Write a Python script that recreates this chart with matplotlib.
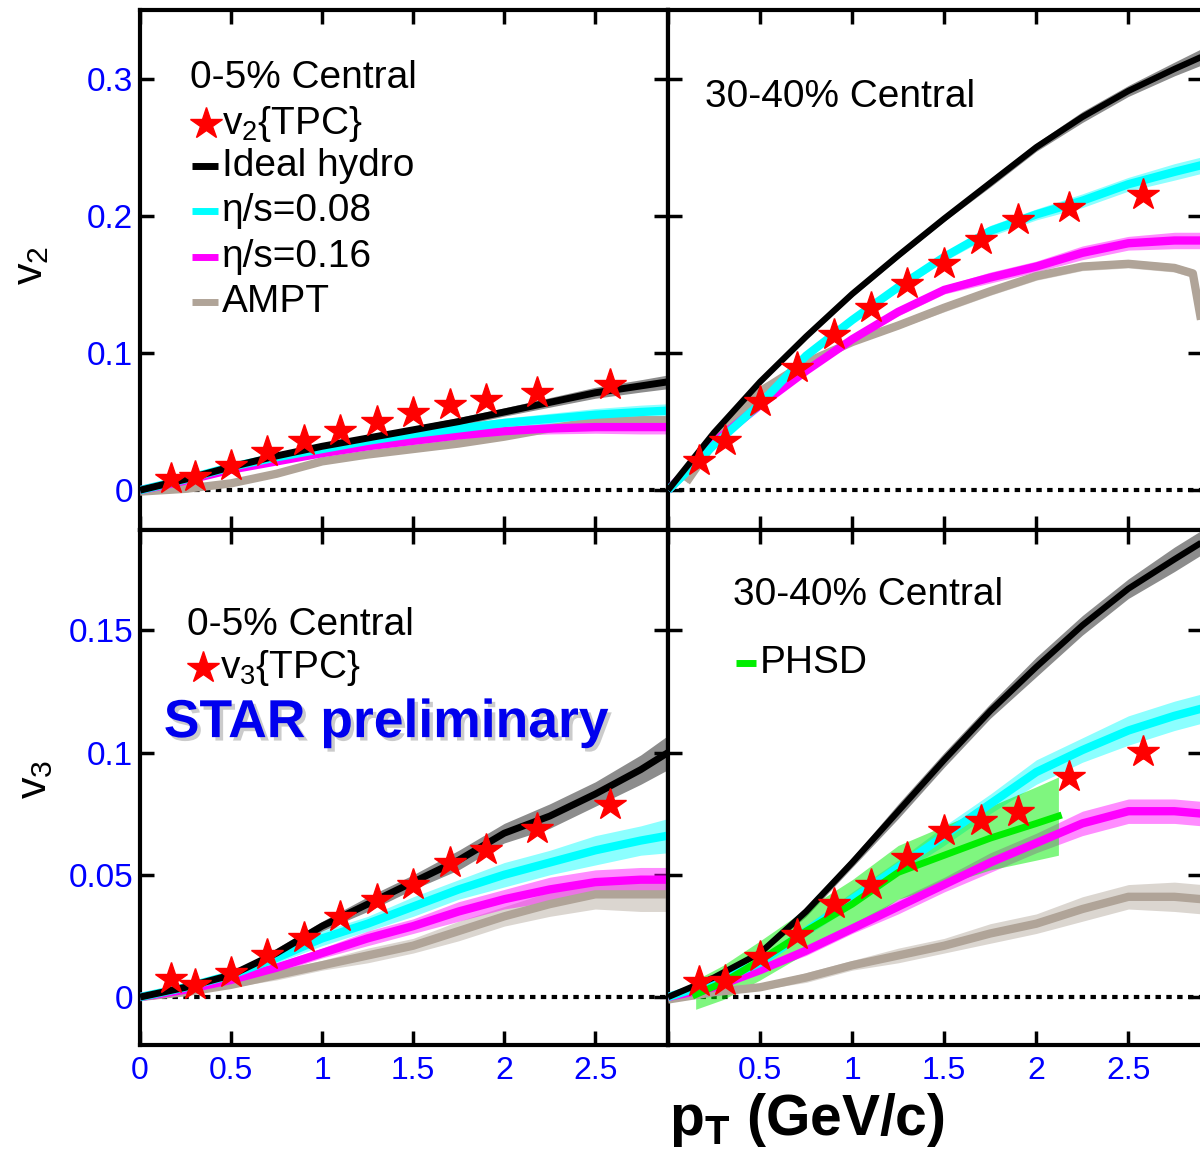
import matplotlib
matplotlib.use("Agg")
from matplotlib import pyplot as plt
from matplotlib import font_manager
from matplotlib import patheffects as pe
import numpy as np

# ---- data ----
pt_model = [0, 0.25, 0.5, 0.75, 1.0, 1.25, 1.5, 1.75, 2.0, 2.25, 2.5, 2.75, 2.9]

# v2, 0-5%
v2c_pt = [0.17, 0.30, 0.50, 0.70, 0.90, 1.10, 1.30, 1.50, 1.70, 1.90, 2.18, 2.58]
v2c_val = [0.008, 0.0095, 0.018, 0.028, 0.036, 0.0435, 0.050, 0.056, 0.062, 0.066, 0.071, 0.077]
v2c_hydro = [0, 0.008, 0.017, 0.025, 0.032, 0.038, 0.044, 0.050, 0.057, 0.064, 0.071, 0.076, 0.079]
v2c_hydro_err = [0, 0.001, 0.001, 0.0015, 0.002, 0.002, 0.0025, 0.003, 0.003, 0.0035, 0.004, 0.0045, 0.005]
v2c_e08 = [0, 0.008, 0.017, 0.024, 0.030, 0.036, 0.041, 0.045, 0.049, 0.052, 0.055, 0.057, 0.058]
v2c_e08_err = [0, 0.001, 0.001, 0.0015, 0.002, 0.002, 0.0025, 0.003, 0.0035, 0.004, 0.0045, 0.005, 0.005]
v2c_e16 = [0, 0.007, 0.015, 0.021, 0.027, 0.032, 0.036, 0.040, 0.043, 0.045, 0.046, 0.046, 0.046]
v2c_e16_err = [0, 0.001, 0.001, 0.0015, 0.002, 0.002, 0.0025, 0.003, 0.0035, 0.004, 0.0045, 0.005, 0.005]
v2c_ampt = [-0.001, 0.001, 0.005, 0.012, 0.021, 0.026, 0.030, 0.034, 0.039, 0.045, 0.050, 0.051, 0.051]
v2c_ampt_err = [0, 0.001, 0.001, 0.001, 0.0015, 0.0015, 0.0015, 0.002, 0.002, 0.002, 0.002, 0.002, 0.002]

# v2, 30-40%
v2p_pt = [0.17, 0.31, 0.50, 0.70, 0.90, 1.10, 1.30, 1.50, 1.70, 1.90, 2.18, 2.58]
v2p_val = [0.021, 0.036, 0.064, 0.089, 0.113, 0.133, 0.150, 0.165, 0.182, 0.197, 0.206, 0.215]
v2p_hydro = [0, 0.042, 0.079, 0.112, 0.143, 0.171, 0.198, 0.224, 0.250, 0.272, 0.291, 0.307, 0.316]
v2p_hydro_err = [0, 0.001, 0.001, 0.0015, 0.002, 0.002, 0.002, 0.003, 0.003, 0.004, 0.004, 0.005, 0.006]
v2p_e08 = [0, 0.033, 0.063, 0.098, 0.124, 0.148, 0.170, 0.189, 0.201, 0.211, 0.223, 0.232, 0.237]
v2p_e08_err = [0, 0.001, 0.001, 0.002, 0.002, 0.003, 0.003, 0.004, 0.004, 0.005, 0.005, 0.006, 0.006]
v2p_e16 = [0, 0.035, 0.062, 0.087, 0.110, 0.130, 0.146, 0.155, 0.163, 0.173, 0.180, 0.182, 0.182]
v2p_e16_err = [0, 0.001, 0.001, 0.002, 0.002, 0.003, 0.003, 0.004, 0.004, 0.005, 0.005, 0.006, 0.006]
v2p_ampt_pt = [0.1, 0.25, 0.5, 0.75, 1.0, 1.25, 1.5, 1.75, 2.0, 2.25, 2.5, 2.75, 2.85, 2.9]
v2p_ampt = [0.006, 0.035, 0.072, 0.093, 0.108, 0.120, 0.133, 0.145, 0.156, 0.163, 0.165, 0.162, 0.158, 0.120]
v2p_ampt_err = [0.001, 0.001, 0.002, 0.002, 0.002, 0.002, 0.003, 0.003, 0.003, 0.003, 0.003, 0.003, 0.003, 0.003]

# v3, 0-5%
v3c_pt = [0.17, 0.30, 0.50, 0.70, 0.90, 1.10, 1.30, 1.50, 1.70, 1.90, 2.18, 2.58]
v3c_val = [0.0072, 0.005, 0.010, 0.017, 0.024, 0.0326, 0.0396, 0.046, 0.055, 0.060, 0.0686, 0.0785]
v3c_hydro = [0, 0.004, 0.009, 0.018, 0.029, 0.038, 0.047, 0.056, 0.067, 0.074, 0.083, 0.093, 0.100]
v3c_hydro_err = [0, 0.001, 0.001, 0.002, 0.002, 0.003, 0.003, 0.004, 0.004, 0.005, 0.005, 0.006, 0.007]
v3c_e08 = [0, 0.004, 0.009, 0.016, 0.024, 0.030, 0.037, 0.044, 0.050, 0.055, 0.060, 0.064, 0.066]
v3c_e08_err = [0, 0.001, 0.001, 0.002, 0.003, 0.003, 0.004, 0.004, 0.005, 0.005, 0.006, 0.006, 0.007]
v3c_e16 = [0, 0.003, 0.007, 0.012, 0.018, 0.024, 0.029, 0.035, 0.040, 0.044, 0.047, 0.048, 0.048]
v3c_e16_err = [0, 0.001, 0.001, 0.002, 0.002, 0.003, 0.003, 0.004, 0.004, 0.005, 0.005, 0.005, 0.005]
v3c_ampt = [0, 0.002, 0.005, 0.009, 0.013, 0.017, 0.021, 0.027, 0.033, 0.038, 0.042, 0.042, 0.042]
v3c_ampt_err = [0, 0.001, 0.001, 0.002, 0.002, 0.003, 0.003, 0.004, 0.004, 0.005, 0.006, 0.007, 0.007]

# v3, 30-40%
v3p_pt = [0.17, 0.31, 0.50, 0.70, 0.90, 1.10, 1.30, 1.50, 1.70, 1.90, 2.18, 2.58]
v3p_val = [0.006, 0.0065, 0.0164, 0.0255, 0.038, 0.046, 0.057, 0.068, 0.072, 0.0756, 0.090, 0.1003]
v3p_err = [0, 0, 0, 0, 0, 0, 0, 0, 0, 0, 0, 0.003]
v3p_hydro = [0, 0.008, 0.018, 0.035, 0.055, 0.076, 0.097, 0.117, 0.135, 0.152, 0.167, 0.179, 0.186]
v3p_hydro_err = [0, 0.001, 0.001, 0.002, 0.002, 0.003, 0.003, 0.003, 0.004, 0.004, 0.004, 0.005, 0.005]
v3p_e08 = [0, 0.006, 0.014, 0.027, 0.040, 0.053, 0.066, 0.079, 0.092, 0.101, 0.109, 0.115, 0.118]
v3p_e08_err = [0, 0.001, 0.001, 0.002, 0.003, 0.003, 0.004, 0.004, 0.005, 0.005, 0.006, 0.006, 0.006]
v3p_e16 = [0, 0.004, 0.011, 0.019, 0.028, 0.037, 0.046, 0.055, 0.063, 0.071, 0.076, 0.076, 0.075]
v3p_e16_err = [0, 0.001, 0.001, 0.002, 0.002, 0.003, 0.003, 0.004, 0.004, 0.005, 0.005, 0.005, 0.005]
v3p_ampt = [-0.001, 0.002, 0.004, 0.008, 0.013, 0.017, 0.021, 0.026, 0.030, 0.036, 0.041, 0.041, 0.040]
v3p_ampt_err = [0, 0.001, 0.001, 0.002, 0.002, 0.003, 0.003, 0.004, 0.004, 0.005, 0.005, 0.006, 0.006]
phsd_pt = [0.15, 0.3, 0.5, 0.75, 1.0, 1.25, 1.5, 1.75, 2.0, 2.12]
phsd_val = [0.001, 0.006, 0.015, 0.027, 0.038, 0.051, 0.058, 0.065, 0.071, 0.074]
phsd_err = [0.006, 0.007, 0.008, 0.009, 0.010, 0.011, 0.012, 0.013, 0.015, 0.016]

x_ticks = [0, 0.5, 1, 1.5, 2, 2.5]
v2_ticks = [0, 0.1, 0.2, 0.3]
v2_ticklabels = ["0", "0.1", "0.2", "0.3"]
v3_ticks = [0, 0.05, 0.1, 0.15]
v3_ticklabels = ["0", "0.05", "0.1", "0.15"]

C_HYDRO = "black"
C_E08 = "#00ffff"
C_E16 = "#ff00ff"
C_AMPT = "#b0a498"
C_PHSD = "#00ee00"
C_STAR = "#ff0000"
C_TICK = "#0000ff"

names = {f.name for f in font_manager.fontManager.ttflist}
BASE = "Liberation Sans" if "Liberation Sans" in names else "DejaVu Sans"
plt.rcParams["font.family"] = [BASE, "DejaVu Sans"]
plt.rcParams["mathtext.fontset"] = "custom"
plt.rcParams["mathtext.rm"] = BASE
plt.rcParams["mathtext.it"] = BASE
plt.rcParams["mathtext.bf"] = BASE + ":bold"

TXT = 28


def band(ax, x, y, e, color, alpha=0.45):
    x = np.asarray(x)
    y = np.asarray(y)
    e = np.asarray(e)
    ax.fill_between(x, y - e, y + e, color=color, alpha=alpha, lw=0, zorder=2)


def model(ax, x, y, e, color, lw=6):
    band(ax, x, y, e, color)
    ax.plot(x, y, color=color, lw=lw, solid_capstyle="butt", zorder=3)


def style(ax, ylim, yticks, ylabels, show_y, show_x, xlabels=None):
    ax.set_xlim(0, 2.9)
    ax.set_ylim(*ylim)
    for s in ax.spines.values():
        s.set_linewidth(3)
    ax.set_xticks(x_ticks)
    ax.set_yticks(yticks)
    ax.tick_params(which="major", direction="in", length=10, width=2.5,
                   top=True, right=True, colors="black")
    ax.tick_params(axis="y", pad=5)
    ax.tick_params(axis="x", pad=8)
    if show_y:
        ax.set_yticklabels(ylabels, color=C_TICK, fontsize=24)
    else:
        ax.set_yticklabels([])
    if show_x:
        ax.set_xticklabels(xlabels if xlabels else [("%g" % t) for t in x_ticks],
                           color=C_TICK, fontsize=23)
    else:
        ax.set_xticklabels([])
    ax.axhline(0, color="black", lw=3, ls=(0, (1.3, 1.3)), zorder=1)


def legend_line(ax, x0, x1, y, color):
    ax.plot([x0, x1], [y, y], color=color, lw=5, transform=ax.transAxes,
            solid_capstyle="butt", clip_on=False, zorder=6)


fig = plt.figure(figsize=(12, 11.62), dpi=100)
ax_tl = fig.add_axes([0.1167, 0.5439, 0.4400, 0.4475])
ax_tr = fig.add_axes([0.5567, 0.5439, 0.4450, 0.4475])
ax_bl = fig.add_axes([0.1167, 0.1007, 0.4400, 0.4432])
ax_br = fig.add_axes([0.5567, 0.1007, 0.4450, 0.4432])

star_kw = dict(marker="*", ms=24, color=C_STAR, mec=C_STAR, ls="none", zorder=7)

# ---- top left: v2 0-5% ----
ax = ax_tl
model(ax, pt_model, v2c_ampt, v2c_ampt_err, C_AMPT)
model(ax, pt_model, v2c_e16, v2c_e16_err, C_E16)
model(ax, pt_model, v2c_e08, v2c_e08_err, C_E08)
model(ax, pt_model, v2c_hydro, v2c_hydro_err, C_HYDRO, lw=5)
ax.plot(v2c_pt, v2c_val, **star_kw)
style(ax, (-0.029, 0.35), v2_ticks, v2_ticklabels, True, False)
ax.text(0.095, 0.869, "0-5% Central", transform=ax.transAxes, fontsize=TXT, va="center")
ax.plot([0.125], [0.781], transform=ax.transAxes, marker="*", ms=24, color=C_STAR,
        ls="none", clip_on=False)
ax.text(0.155, 0.781, "v$_2${TPC}", transform=ax.transAxes, fontsize=TXT, va="center")
leg_rows = [("Ideal hydro", C_HYDRO, 0.700), ("η/s=0.08", C_E08, 0.613),
            ("η/s=0.16", C_E16, 0.525), ("AMPT", C_AMPT, 0.438)]
for lab, col, yy in leg_rows:
    legend_line(ax, 0.099, 0.148, yy, col)
    ax.text(0.155, yy, lab, transform=ax.transAxes, fontsize=TXT, va="center")

# ---- top right: v2 30-40% ----
ax = ax_tr
model(ax, v2p_ampt_pt, v2p_ampt, v2p_ampt_err, C_AMPT)
model(ax, pt_model, v2p_e16, v2p_e16_err, C_E16)
model(ax, pt_model, v2p_e08, v2p_e08_err, C_E08)
model(ax, pt_model, v2p_hydro, v2p_hydro_err, C_HYDRO, lw=4.5)
ax.plot(v2p_pt, v2p_val, **star_kw)
style(ax, (-0.029, 0.35), v2_ticks, v2_ticklabels, False, False)
ax.text(0.0695, 0.833, "30-40% Central", transform=ax.transAxes, fontsize=TXT, va="center")

# ---- bottom left: v3 0-5% ----
ax = ax_bl
model(ax, pt_model, v3c_ampt, v3c_ampt_err, C_AMPT)
model(ax, pt_model, v3c_e16, v3c_e16_err, C_E16)
model(ax, pt_model, v3c_e08, v3c_e08_err, C_E08)
model(ax, pt_model, v3c_hydro, v3c_hydro_err, C_HYDRO, lw=5)
ax.plot(v3c_pt, v3c_val, **star_kw)
style(ax, (-0.0196, 0.191), v3_ticks, v3_ticklabels, True, True)
ax.text(0.089, 0.8155, "0-5% Central", transform=ax.transAxes, fontsize=TXT, va="center")
ax.plot([0.12], [0.732], transform=ax.transAxes, marker="*", ms=24, color=C_STAR,
        ls="none", clip_on=False)
ax.text(0.152, 0.732, "v$_3${TPC}", transform=ax.transAxes, fontsize=TXT, va="center")
ax.text(0.045, 0.625, "STAR preliminary", transform=ax.transAxes, fontsize=38.5,
        fontweight="bold", color="#0000ee", va="center", zorder=8,
        path_effects=[pe.SimplePatchShadow(offset=(2.5, -2.5), shadow_rgbFace="#999999",
                                           alpha=0.5), pe.Normal()])

# ---- bottom right: v3 30-40% ----
ax = ax_br
model(ax, pt_model, v3p_ampt, v3p_ampt_err, C_AMPT)
model(ax, pt_model, v3p_e16, v3p_e16_err, C_E16)
model(ax, pt_model, v3p_e08, v3p_e08_err, C_E08)
model(ax, pt_model, v3p_hydro, v3p_hydro_err, C_HYDRO, lw=4.5)
band(ax, phsd_pt, phsd_val, phsd_err, C_PHSD, alpha=0.5)
ax.plot(phsd_pt, phsd_val, color=C_PHSD, lw=5, zorder=4)
ax.errorbar(v3p_pt, v3p_val, yerr=v3p_err, ecolor=C_STAR, elinewidth=2, capsize=0,
            **star_kw)
style(ax, (-0.0196, 0.191), v3_ticks, v3_ticklabels, False, True,
      xlabels=["", "0.5", "1", "1.5", "2", "2.5"])
ax.text(0.122, 0.874, "30-40% Central", transform=ax.transAxes, fontsize=TXT, va="center")
legend_line(ax, 0.127, 0.164, 0.742, C_PHSD)
ax.text(0.172, 0.742, "PHSD", transform=ax.transAxes, fontsize=TXT, va="center")

# axis titles
fig.text(0.026, 0.772, "v$_2$", rotation=90, fontsize=31, ha="center", va="center")
fig.text(0.029, 0.329, "v$_3$", rotation=90, fontsize=31, ha="center", va="center")
fig.text(0.672, 0.036, r"$\mathbf{p_T}$ (GeV/c)", fontsize=41, fontweight="bold",
         ha="center", va="center")

fig.savefig("out.png", dpi=100)
